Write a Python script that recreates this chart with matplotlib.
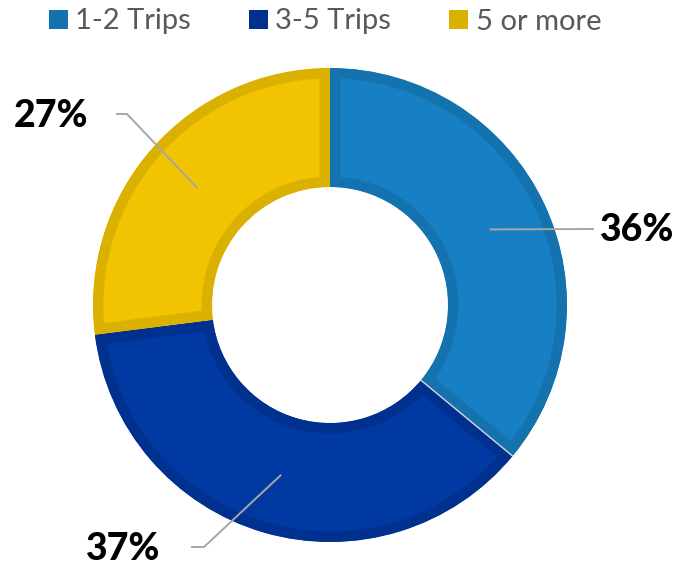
import numpy as np
import matplotlib
matplotlib.use("Agg")
import matplotlib.pyplot as plt
from matplotlib.patches import Patch, Wedge

# trip frequency shares
categories = ["1-2 Trips", "3-5 Trips", "5 or more"]
shares = [36, 37, 27]
labels = ["36%", "37%", "27%"]

fills = ["#1780C4", "#0039A1", "#F2C300"]
edges = ["#1472AF", "#00318F", "#DAB100"]

W, H = 682, 567
fig = plt.figure(figsize=(W / 100, H / 100), dpi=100)
ax = fig.add_axes([0, 0, 1, 1])

cx, cy = 330, 262
R, r_in = 237, 118
wedges, _ = ax.pie(shares, startangle=90, counterclock=False, radius=R,
                   center=(cx, cy), colors=fills, frame=True,
                   wedgeprops=dict(width=R - r_in, linewidth=0))
ax.set_xlim(0, W)
ax.set_ylim(0, H)
ax.set_aspect("equal")
ax.axis("off")

# inner border: double-width stroke clipped to a copy of the wedge
# (pie turns clipping off on its wedges, so switch it back on)
for w, ec in zip(wedges, edges):
    clip = Wedge(w.center, w.r, w.theta1, w.theta2, width=w.width,
                 transform=ax.transData)
    w.set_edgecolor(ec)
    w.set_linewidth(15)
    w.set_clip_on(True)
    w.set_clip_path(clip)

# thin separator between the two blue slices
b = np.deg2rad(90 - shares[0] * 3.6)
ax.plot([cx + r_in * np.cos(b), cx + R * np.cos(b)],
        [cy + r_in * np.sin(b), cy + R * np.sin(b)],
        color="#D9D9D9", lw=1.0, zorder=5)

# leader lines from mid-ring of each slice to its label
r_mid = (R + r_in) / 2
cum = np.cumsum([0] + shares)
elbows = [None, (204, 20), (127, 453)]
ends = [(593, 338), (192, 20), (117, 453)]
text_pos = [(600, 337, "left"), (160, 18, "right"), (88, 451, "right")]
for i, lab in enumerate(labels):
    mid = np.deg2rad(90 - (cum[i] + shares[i] / 2) * 3.6)
    sx, sy = cx + r_mid * np.cos(mid), cy + r_mid * np.sin(mid)
    pts = [(sx, sy)]
    if elbows[i] is not None:
        pts.append(elbows[i])
    pts.append(ends[i])
    xs, ys = zip(*pts)
    ax.plot(xs, ys, color="#A6A6A6", lw=1.4, zorder=6)
    tx, ty, ha = text_pos[i]
    ax.text(tx, ty, lab, ha=ha, va="center", fontsize=27,
            family=["Lato", "DejaVu Sans"], fontweight="black", color="#000000")

handles = [Patch(facecolor=ec, edgecolor="none") for ec in edges]
ax.legend(handles, categories, loc="center", bbox_to_anchor=(0.4765, 1 - 21.5 / H),
          ncol=3, frameon=False, handlelength=0.65, handleheight=0.65,
          handletextpad=0.25, columnspacing=2.0, borderaxespad=0.0,
          labelcolor="#595959",
          prop=dict(family=["Lato", "DejaVu Sans"], size=21))

fig.savefig("out.png", dpi=100)
